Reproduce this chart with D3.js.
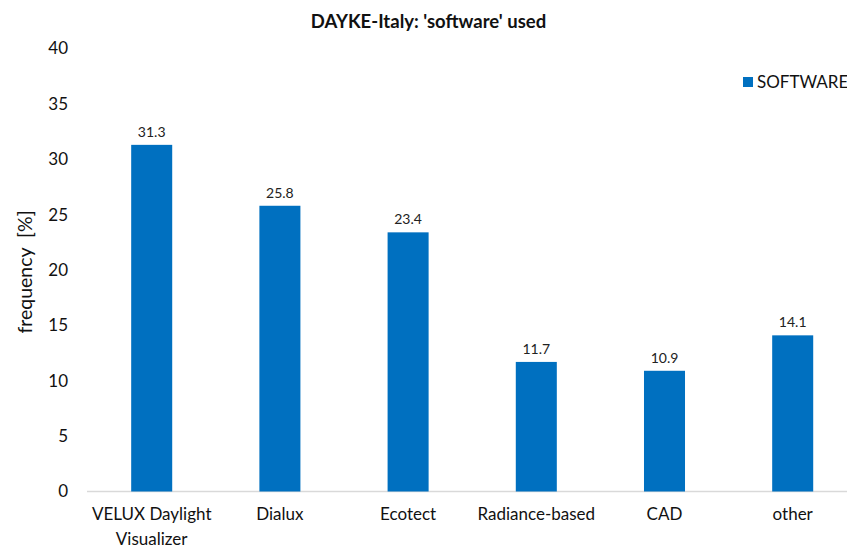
<!DOCTYPE html>
<html>
<head>
<meta charset="utf-8">
<script src="https://cdn.jsdelivr.net/npm/d3@7"></script>
<style>
  html, body { margin: 0; padding: 0; background: #fff; }
  svg { display: block; font-family: Lato, "Open Sans", sans-serif; }
</style>
</head>
<body>
<div id="chart"></div>
<script>
const categories = ["VELUX Daylight\nVisualizer", "Dialux", "Ecotect", "Radiance-based", "CAD", "other"];
const values = [31.3, 25.8, 23.4, 11.7, 10.9, 14.1];
const yTicks = [0, 5, 10, 15, 20, 25, 30, 35, 40];
const seriesName = "SOFTWARE";
const titleText = "DAYKE-Italy: 'software' used";
const yTitle = "frequency  [%]";

const W = 847, H = 549;
const svg = d3.select("#chart").append("svg").attr("width", W).attr("height", H);

const x = d3.scaleBand().domain(categories).range([87.6, 856.8]).paddingInner(0.68).paddingOuter(0.34);
const y = d3.scaleLinear().domain([0, 40]).range([491.5, 48.5]);

// title
svg.append("text").attr("x", 428.5).attr("y", 28).attr("text-anchor", "middle")
  .attr("font-weight", "bold").attr("font-size", 18.5).attr("fill", "#111").text(titleText);

// y axis
const yAxis = svg.append("g").attr("transform", "translate(75,0)")
  .call(d3.axisLeft(y).tickValues(yTicks).tickSize(0).tickPadding(7));
yAxis.select(".domain").remove();
yAxis.selectAll("text").attr("font-size", 17).attr("fill", "#111").attr("font-family", "Lato, sans-serif");

// baseline
svg.append("line").attr("x1", 87).attr("x2", W).attr("y1", y(0)).attr("y2", y(0))
  .attr("stroke", "#d9d9d9").attr("stroke-width", 1.5);

// bars
svg.append("g").selectAll("rect").data(values).join("rect")
  .attr("x", (d, i) => x(categories[i]))
  .attr("y", d => y(d))
  .attr("width", x.bandwidth())
  .attr("height", d => y(0) - y(d))
  .attr("fill", "#0070C0");

// value labels
svg.append("g").selectAll("text").data(values).join("text")
  .attr("x", (d, i) => x(categories[i]) + x.bandwidth() / 2)
  .attr("y", d => y(d) - 8)
  .attr("text-anchor", "middle").attr("font-size", 14).attr("fill", "#222")
  .text(d => d.toFixed(1));

// x labels
const xl = svg.append("g").selectAll("text").data(categories).join("text")
  .attr("x", d => x(d) + x.bandwidth() / 2)
  .attr("y", 520)
  .attr("text-anchor", "middle").attr("font-size", 17).attr("fill", "#111");
xl.each(function(d) {
  const parts = d.split("\n");
  const t = d3.select(this);
  parts.forEach((p, i) => {
    t.append("tspan").attr("x", t.attr("x")).attr("dy", i === 0 ? 0 : 25).text(p);
  });
});

// y title
svg.append("text").attr("transform", "translate(32,272) rotate(-90)")
  .attr("text-anchor", "middle").attr("font-size", 19.5).attr("fill", "#111")
  .style("white-space", "pre").attr("xml:space", "preserve").text(yTitle);

// legend
svg.append("rect").attr("x", 743).attr("y", 77).attr("width", 10).attr("height", 10).attr("fill", "#0070C0");
svg.append("text").attr("x", 757).attr("y", 88).attr("font-size", 17).attr("fill", "#111").text(seriesName);
</script>
</body>
</html>
